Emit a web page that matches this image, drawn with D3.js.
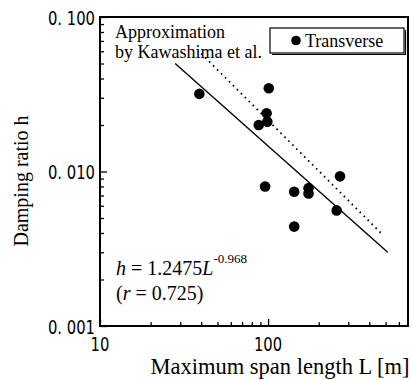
<!doctype html>
<html>
<head>
<meta charset="utf-8">
<script src="https://d3js.org/d3.v7.min.js"></script>
<style>
  body { margin: 0; background: #fff; }
  svg text { fill: #000; }
  .serif { font-family: "Liberation Serif", "Times New Roman", serif; }
  .tick-lab { font-family: "DejaVu Sans", "Liberation Sans", sans-serif; font-size: 20px; }
</style>
</head>
<body>
<div id="chart"></div>
<script>
// data
var spanL = [39, 101, 98, 88, 99, 96, 143, 174, 174, 268, 256, 143]
var dampH = [0.0318, 0.0346, 0.0238, 0.0200, 0.0210, 0.0080, 0.0074, 0.0078, 0.0072, 0.0093, 0.0056, 0.0044]

// fitted line h = 1.2475 L^-0.968 (end points)
var fitL = [28, 515]
var fitH = [0.050, 0.0030]

// Kawashima approximation (end points)
var kawaL = [40, 480]
var kawaH = [0.058, 0.0039]

var xTickVals = [10, 100]
var xTickLabels = ["10", "100"]
var yTickVals = [0.1, 0.01, 0.001]
var yTickLabels = ["0. 100", "0. 010", "0. 001"]

var width = 412, height = 380
var mLeft = 100, mRight = 408, mTop = 17, mBottom = 326

var svg = d3.select("#chart").append("svg")
  .attr("width", width)
  .attr("height", height)

var x = d3.scaleLog().domain([10, 680]).range([mLeft, mRight])
var y = d3.scaleLog().domain([0.001, 0.1]).range([mBottom, mTop])

// frame
svg.append("rect")
  .attr("x", mLeft).attr("y", mTop)
  .attr("width", mRight - mLeft).attr("height", mBottom - mTop)
  .attr("fill", "none").attr("stroke", "#000").attr("stroke-width", 2)

// y ticks (inward)
var yAxis = svg.append("g")
  .attr("transform", "translate(" + mLeft + ",0)")
  .call(d3.axisLeft(y).tickValues(y.ticks()).tickSize(-4).tickFormat(""))
yAxis.select(".domain").remove()
yAxis.selectAll(".tick line")
  .attr("stroke-width", 1.3)
  .attr("x2", function(d) { return yTickVals.indexOf(d) >= 0 ? 7 : 4 })

// x ticks (inward)
var xAxis = svg.append("g")
  .attr("transform", "translate(0," + mBottom + ")")
  .call(d3.axisBottom(x).tickValues(x.ticks()).tickSize(-4).tickFormat(""))
xAxis.select(".domain").remove()
xAxis.selectAll(".tick line")
  .attr("stroke-width", 1.3)
  .attr("y2", function(d) { return xTickVals.indexOf(d) >= 0 ? -7 : -4 })

// tick labels (narrow gothic look)
svg.selectAll(".ylab")
  .data(yTickVals)
  .enter().append("text")
  .attr("class", "tick-lab")
  .attr("transform", function(d) { return "translate(95," + (y(d) + 7.5) + ") scale(0.74,1)" })
  .attr("text-anchor", "end")
  .text(function(d, i) { return yTickLabels[i] })

svg.selectAll(".xlab")
  .data(xTickVals)
  .enter().append("text")
  .attr("class", "tick-lab")
  .attr("transform", function(d) { return "translate(" + x(d) + ",351) scale(0.74,1)" })
  .attr("text-anchor", "middle")
  .text(function(d, i) { return xTickLabels[i] })

// axis titles
svg.append("text")
  .attr("class", "serif")
  .attr("x", 280).attr("y", 374)
  .attr("text-anchor", "middle")
  .style("font-size", "22.5px")
  .text("Maximum span length L [m]")

svg.append("text")
  .attr("class", "serif")
  .attr("transform", "translate(28,181) rotate(-90)")
  .attr("text-anchor", "middle")
  .style("font-size", "20px")
  .text("Damping ratio h")

// lines
var line = d3.line()
  .x(function(d) { return x(d[0]) })
  .y(function(d) { return y(d[1]) })

svg.append("path")
  .datum(d3.zip(fitL, fitH))
  .attr("d", line)
  .attr("fill", "none").attr("stroke", "#000").attr("stroke-width", 1.4)

svg.append("path")
  .datum(d3.zip(kawaL, kawaH))
  .attr("d", line)
  .attr("fill", "none").attr("stroke", "#000").attr("stroke-width", 1.8)
  .attr("stroke-dasharray", "1.6,4")

// points
svg.selectAll("circle.pt")
  .data(d3.zip(spanL, dampH))
  .enter().append("circle")
  .attr("class", "pt")
  .attr("cx", function(d) { return x(d[0]) })
  .attr("cy", function(d) { return y(d[1]) })
  .attr("r", 5.3)
  .attr("fill", "#000")

// annotations
svg.append("text")
  .attr("class", "serif")
  .attr("x", 115).attr("y", 38)
  .style("font-size", "18px")
  .text("Approximation")
svg.append("text")
  .attr("class", "serif")
  .attr("x", 115).attr("y", 58)
  .style("font-size", "18px")
  .text("by Kawashima et al.")

var eq = svg.append("text")
  .attr("class", "serif")
  .attr("x", 116).attr("y", 275)
  .style("font-size", "20px")
eq.append("tspan").style("font-style", "italic").text("h")
eq.append("tspan").text(" = 1.2475")
eq.append("tspan").style("font-style", "italic").text("L")
eq.append("tspan").attr("dy", -12).style("font-size", "13px").text("-0.968")

var rr = svg.append("text")
  .attr("class", "serif")
  .attr("x", 116).attr("y", 300)
  .style("font-size", "20px")
rr.append("tspan").text("(")
rr.append("tspan").style("font-style", "italic").text("r")
rr.append("tspan").text(" = 0.725)")

// legend box with shadow
svg.append("path")
  .attr("d", "M272,54.5 H405.5 V30")
  .attr("fill", "none").attr("stroke", "#000").attr("stroke-width", 1.2)
svg.append("rect")
  .attr("x", 270).attr("y", 28)
  .attr("width", 134).attr("height", 25)
  .attr("fill", "#fff").attr("stroke", "#000").attr("stroke-width", 1.2)
svg.append("circle")
  .attr("cx", 296).attr("cy", 40.5).attr("r", 4.8).attr("fill", "#000")
svg.append("text")
  .attr("class", "serif")
  .attr("x", 305).attr("y", 47)
  .style("font-size", "18px")
  .text("Transverse")
</script>
</body>
</html>
